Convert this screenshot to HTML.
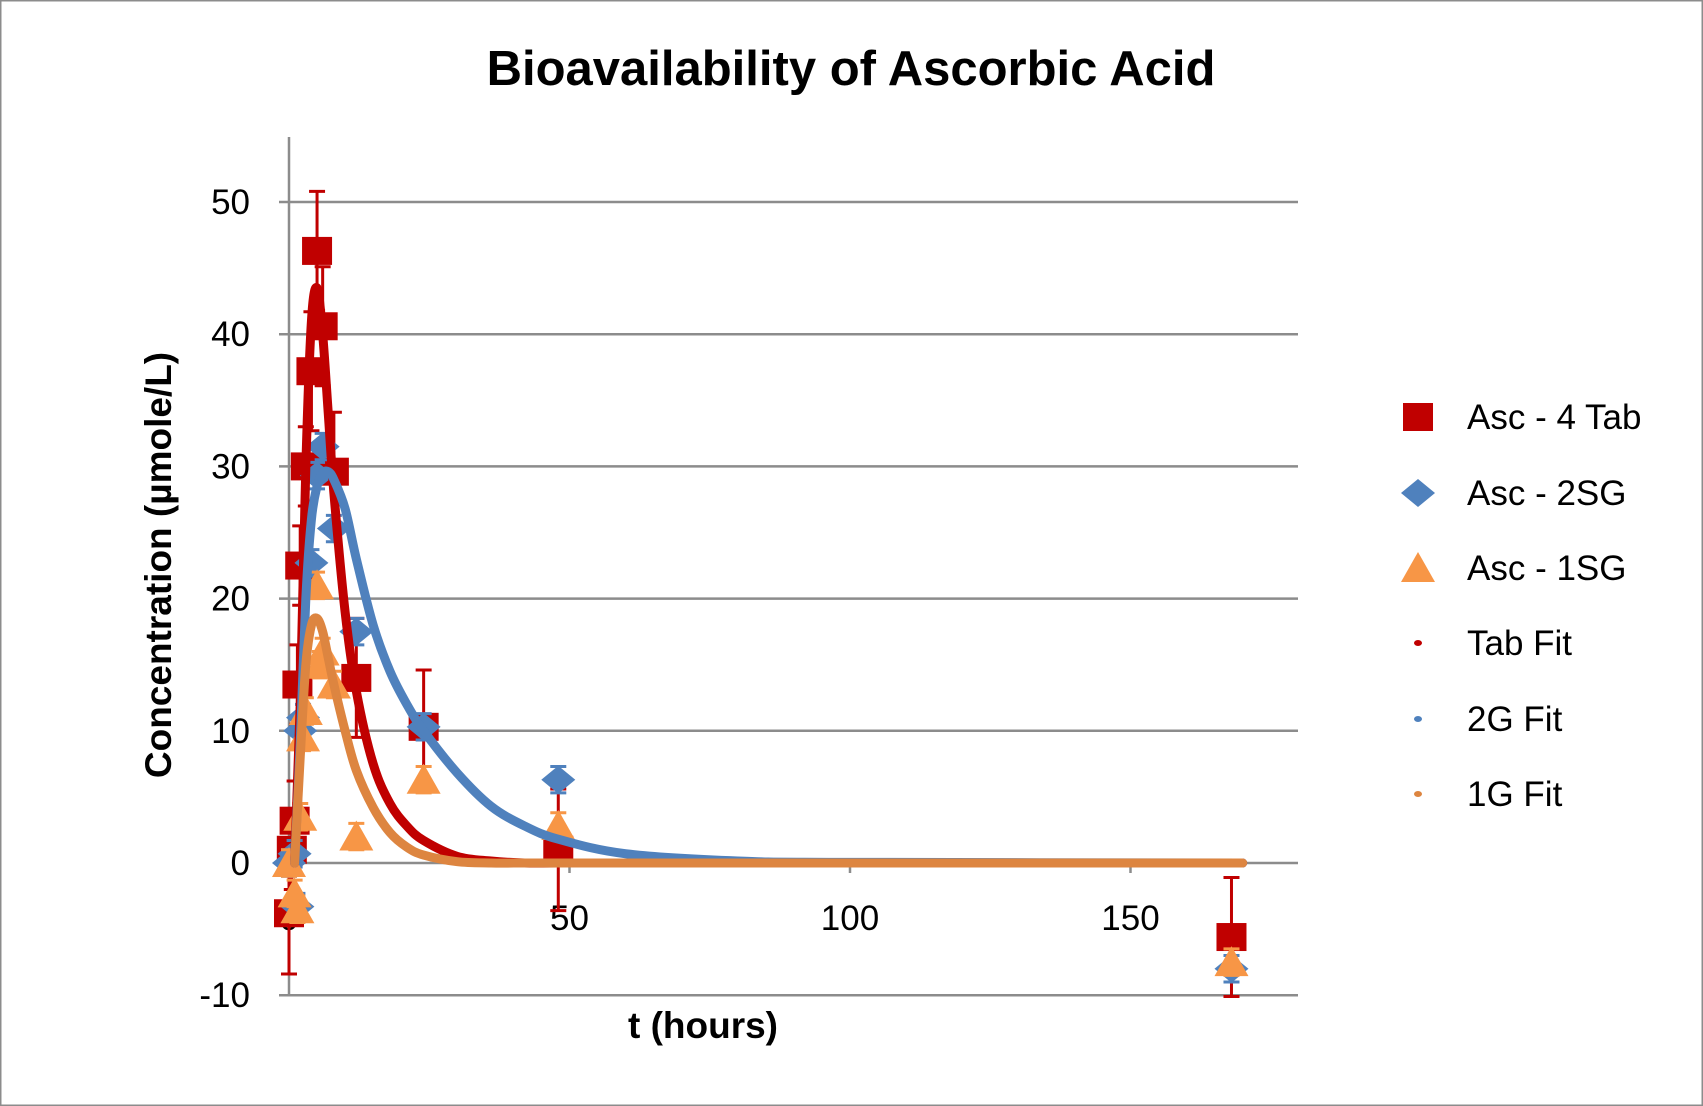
<!DOCTYPE html>
<html><head><meta charset="utf-8"><style>
html,body{margin:0;padding:0;background:#fff;}
svg{display:block;font-family:"Liberation Sans",sans-serif;}
</style></head><body>
<svg id="chart" width="1703" height="1106" viewBox="0 0 1703 1106" xmlns="http://www.w3.org/2000/svg">
<rect x="0.5" y="0.5" width="1702" height="1105" fill="#fff" stroke="#8c8c8c" stroke-width="2"/>
<text x="851" y="85" text-anchor="middle" font-size="49" font-weight="bold">Bioavailability of Ascorbic Acid</text>
<g id="grid"></g>
<g id="axes"></g>
<g id="marks"></g>
<g id="fits"></g>
<text x="703" y="1038" text-anchor="middle" font-size="37" font-weight="bold">t (hours)</text>
<text transform="translate(171,565) rotate(-90)" text-anchor="middle" font-size="37" font-weight="bold">Concentration  (µmole/L)</text>
<g id="legend"></g>
</svg>
<script>
const xTicks=[0,50,100,150];
const yTicks=[-10,0,10,20,30,40,50];
const tabT=[0,0.5,1,1.5,2,3,4,5,6,8,12,24,48,168];
const tabV=[-3.8,1,3.2,13.5,22.5,30,37.2,46.3,40.6,29.6,14,10.3,1,-5.6];
const tabE=[4.6,3,3,3,3,3,4.5,4.5,4.5,4.5,4.5,4.3,4.6,4.5];
const sg2T=[0,1,1.5,2,2.5,4,5,6,8,12,24,48,168];
const sg2V=[0,0.7,-3.3,10,11,22.7,29.3,31.5,25.3,17.5,10.3,6.3,-8];
const sg2E=[1,1,1,1,1,1,1,1,1,1,1,1,1];
const sg1T=[0,1,1.5,2,2.5,3,5,5.5,6,8,12,24,48,168];
const sg1V=[0,-2.3,-3.5,3.5,9.5,11.5,21,15,16,13.5,2,6.3,2.8,-7.5];
const sg1E=[1,1,1,1,1,1,1,1,1,1,1,1,1,1];
const fitT=[1,2,3,4,5,6,7,8,10,12,15,18,21,24,30,36,42,48,60,80,100,170];
const tabFit=[0,12,30,41,43.5,40,34,28,19,13,7.5,4.5,2.8,1.7,0.5,0.15,0,0,0,0,0,0];
const sg2Fit=[0,9,20,26,28.5,29.5,29.6,29,26.8,23,18,14.5,12,10,6.8,4.3,2.8,1.8,0.7,0.15,0.05,0];
const sg1Fit=[0,8,15,18,18.5,17.5,15.5,13.5,10,7,4.2,2.3,1.2,0.6,0.1,0,0,0,0,0,0,0];

const NS="http://www.w3.org/2000/svg";
const X0=289,XR=1298,PXU=(1130.5-289)/150;
const Y0=863,PYU=(863-202)/50;
const sx=t=>X0+t*PXU, sy=v=>Y0-v*PYU;
function mk(tag,attrs,parent){const e=document.createElementNS(NS,tag);for(const k in attrs)e.setAttribute(k,attrs[k]);parent.appendChild(e);return e;}
const grid=document.getElementById('grid'),axes=document.getElementById('axes'),marks=document.getElementById('marks'),fits=document.getElementById('fits'),legend=document.getElementById('legend');
yTicks.forEach(v=>{
  const l=mk('line',{x1:X0-10,x2:XR,y1:sy(v),y2:sy(v),stroke:'#8c8c8c','stroke-width':2.5},grid);
  
  
  const t=mk('text',{x:250,y:sy(v)+12,'text-anchor':'end','font-size':35},axes);
  t.textContent=v;
  
  
});
const ya=mk('line',{x1:X0,x2:X0,y1:137,y2:sy(-10),stroke:'#8c8c8c','stroke-width':2.5},axes);


xTicks.forEach(v=>{
  const tk=mk('line',{x1:sx(v),x2:sx(v),y1:Y0,y2:Y0+10,stroke:'#8c8c8c','stroke-width':2.5},axes);
  
  
  const t=mk('text',{x:sx(v),y:930,'text-anchor':'middle','font-size':35},axes);
  t.textContent=v;
  
  
});
function marker(shape,x,y,color,parent){
  let e;
  if(shape==='sq')e=mk('rect',{x:x-15,y:y-14,width:30,height:28,fill:color},parent);
  else if(shape==='di')e=mk('polygon',{points:`${x-17},${y} ${x},${y-14} ${x+17},${y} ${x},${y+14}`,fill:color},parent);
  else e=mk('polygon',{points:`${x-17},${y+14} ${x},${y-16} ${x+17},${y+14}`,fill:color},parent);
  return e;
}
function series(T,V,E,shape,color,ecolor,name){
  T.forEach((t,i)=>{
    const x=sx(t),y=sy(V[i]),e=E[i]*PYU;
    const b=mk('path',{d:`M${x},${y-e}V${y+e}M${x-8},${y-e}H${x+8}M${x-8},${y+e}H${x+8}`,stroke:ecolor,'stroke-width':3,fill:'none'},marks);
    
    
    const m=marker(shape,x,y,color,marks);
    
    
  });
}
series(tabT,tabV,tabE,'sq','#c00000','#c00000','tab');
series(sg2T,sg2V,sg2E,'di','#4f81bd','#4f81bd','sg2');
series(sg1T,sg1V,sg1E,'tr','#f79646','#f79646','sg1');
function curve(T,V){
  const p=T.map((t,i)=>[sx(t),sy(V[i])]);
  let d=`M${p[0][0]},${p[0][1]}`;
  for(let i=0;i<p.length-1;i++){
    const a=p[Math.max(0,i-1)],b=p[i],c=p[i+1],e=p[Math.min(p.length-1,i+2)];
    const c1=[b[0]+(c[0]-a[0])/6,b[1]+(c[1]-a[1])/6],c2=[c[0]-(e[0]-b[0])/6,c[1]-(e[1]-b[1])/6];
    d+=`C${c1[0]},${c1[1]} ${c2[0]},${c2[1]} ${c[0]},${c[1]}`;
  }
  return d;
}
[[tabFit,'#c00000','tab-fit-line'],[sg2Fit,'#4f81bd','2g-fit-line'],[sg1Fit,'#dd8540','1g-fit-line']].forEach(([V,c,n])=>{
  const l=mk('path',{d:curve(fitT,V),stroke:c,'stroke-width':9,fill:'none','stroke-linecap':'round','stroke-linejoin':'round'},fits);
  
  
});
const legItems=[['sq','#c00000','Asc  - 4 Tab'],['di','#4f81bd','Asc  - 2SG'],['tr','#f79646','Asc  - 1SG'],['dot','#c00000','Tab Fit'],['dot','#4f81bd','2G Fit'],['dot','#dd8540','1G Fit']];
const legY=[417,493,568,643,719,794];
legItems.forEach((it,i)=>{
  const y=legY[i];
  let m;
  if(it[0]==='dot')m=mk('ellipse',{cx:1418,cy:y,rx:4,ry:3,fill:it[1]},legend);
  else m=marker(it[0],1418,y,it[1],legend);
  
  
  const t=mk('text',{x:1467,y:y+12,'font-size':35},legend);
  t.textContent=it[2];
  
  
});
</script>
</body></html>
